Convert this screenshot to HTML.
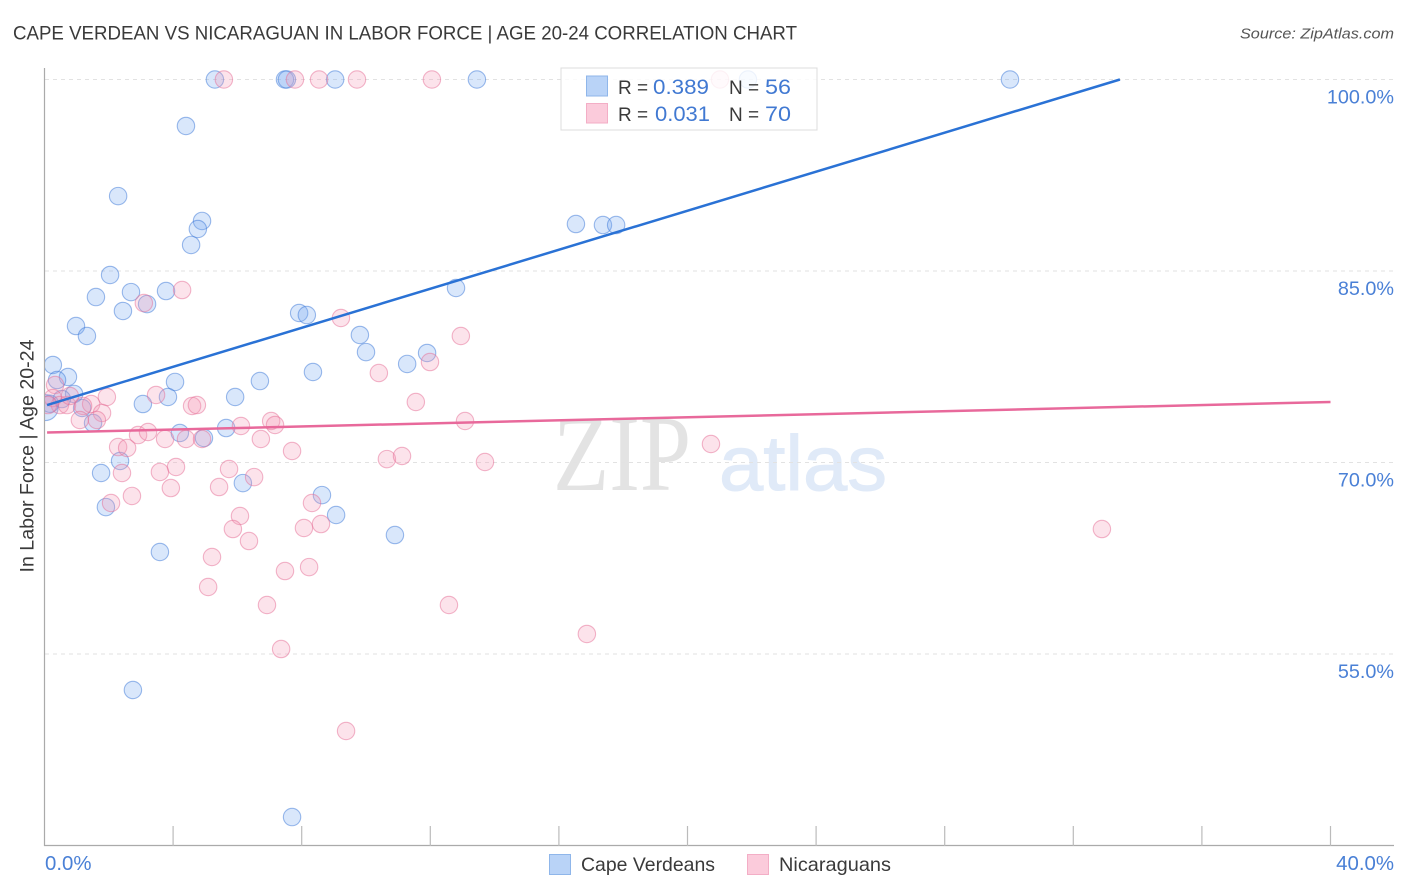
<!DOCTYPE html>
<html lang="en">
<head>
<meta charset="utf-8">
<title>Cape Verdean vs Nicaraguan In Labor Force Correlation Chart</title>
<style>
html,body{margin:0;padding:0;background:#fff;}
svg{display:block;font-family:"Liberation Sans",Arial,sans-serif;}
</style>
</head>
<body>
<svg id="chart" width="1406" height="892" viewBox="0 0 1406 892" xmlns="http://www.w3.org/2000/svg">
  <defs><clipPath id="plot-clip"><rect x="45" y="60" width="1349" height="786"/></clipPath></defs>
  <text x="13" y="39.5" font-size="19" fill="#3a3a3a" textLength="784" lengthAdjust="spacingAndGlyphs">CAPE VERDEAN VS NICARAGUAN IN LABOR FORCE | AGE 20-24 CORRELATION CHART</text>
  <text x="1394" y="38.5" font-size="15" fill="#555" font-style="italic" text-anchor="end" textLength="154" lengthAdjust="spacingAndGlyphs">Source: ZipAtlas.com</text>
  <g>
    <text x="553" y="490" font-family="'Liberation Serif',serif" font-size="108" fill="#e3e3e3" textLength="138" lengthAdjust="spacingAndGlyphs">ZIP</text>
    <text x="719" y="490" font-size="78" fill="#e0eaf8" stroke="#e0eaf8" stroke-width="1" textLength="168" lengthAdjust="spacingAndGlyphs">atlas</text>
  </g>
  <g id="grid"></g>
  <g id="axes"></g>
  <g id="marks" clip-path="url(#plot-clip)"></g>
  <g id="lines" clip-path="url(#plot-clip)"></g>
  <g id="labels"></g>
  <text transform="translate(33.5,456) rotate(-90)" font-size="19" fill="#3a3a3a" text-anchor="middle" textLength="233" lengthAdjust="spacingAndGlyphs">In Labor Force | Age 20-24</text>
  <g>
    <rect x="561" y="68" width="256" height="62" fill="#fff" fill-opacity="0.82" stroke="#dcdcdc" stroke-width="1"/>
    <rect x="586.5" y="76" width="21" height="20" fill="#b9d3f7" stroke="#8fb6ea"/>
    <rect x="586.5" y="103.5" width="21" height="19.5" fill="#fbcbdb" stroke="#f3aec6"/>
    <text x="618" y="94" font-size="19" fill="#3a3a3a">R =</text>
    <text x="653" y="94" font-size="21" fill="#4179d2" textLength="56" lengthAdjust="spacingAndGlyphs">0.389</text>
    <text x="729" y="94" font-size="19" fill="#3a3a3a">N =</text>
    <text x="765" y="94" font-size="21" fill="#4179d2" textLength="26" lengthAdjust="spacingAndGlyphs">56</text>
    <text x="618" y="121" font-size="19" fill="#3a3a3a">R =</text>
    <text x="655" y="121" font-size="21" fill="#4179d2" textLength="55" lengthAdjust="spacingAndGlyphs">0.031</text>
    <text x="729" y="121" font-size="19" fill="#3a3a3a">N =</text>
    <text x="765" y="121" font-size="21" fill="#4179d2" textLength="26" lengthAdjust="spacingAndGlyphs">70</text>
  </g>
  <g>
    <rect x="549.5" y="854.5" width="21" height="20" fill="#b9d3f7" stroke="#8fb6ea"/>
    <text x="581" y="871" font-size="19.5" fill="#3a3a3a" textLength="134" lengthAdjust="spacingAndGlyphs">Cape Verdeans</text>
    <rect x="747.5" y="854.5" width="21" height="20" fill="#fbcbdb" stroke="#f3aec6"/>
    <text x="779" y="871" font-size="19.5" fill="#3a3a3a" textLength="112" lengthAdjust="spacingAndGlyphs">Nicaraguans</text>
  </g>
</svg>
<script>
const capeVerdeanX = [5.30,7.48,7.54,9.04,13.45,21.88,30.03,4.40,2.29,4.90,4.77,4.56,16.53,17.37,17.78,2.04,1.60,2.69,3.78,2.44,3.19,12.80,7.92,8.16,0.98,1.32,9.81,10.00,11.28,11.90,0.26,8.35,0.73,0.39,4.06,6.70,0.92,3.84,5.93,3.06,1.17,0.54,0.17,1.51,4.21,4.96,5.65,2.35,1.76,6.17,1.91,8.63,9.07,10.90,3.59,2.75,7.70];
const capeVerdeanY = [100,100,100,100,100,100,100,96.36,90.87,88.92,88.29,87.04,88.68,88.60,88.60,84.69,82.96,83.35,83.43,81.87,82.41,83.67,81.71,81.55,80.69,79.91,79.99,78.65,77.72,78.58,77.64,77.09,76.70,76.46,76.31,76.38,75.37,75.13,75.13,74.58,74.27,74.97,74.60,73.09,72.31,71.92,72.70,70.12,69.18,68.39,66.51,67.45,65.89,64.32,62.99,52.18,42.23];
const nicaraguanX = [5.58,7.79,8.54,9.72,12.05,21.01,4.28,3.09,9.22,12.95,11.99,10.40,11.55,13.08,20.73,3.47,1.94,0.33,0.26,0.48,0.11,0.70,0.79,1.45,1.20,1.79,1.10,1.63,4.59,4.74,7.05,7.17,6.11,6.73,7.70,2.91,3.22,3.75,4.40,4.90,2.29,2.57,13.70,10.65,11.12,4.09,3.59,5.74,2.41,3.93,6.52,5.43,2.72,2.07,8.32,6.08,8.60,8.07,5.86,32.89,6.36,5.21,8.23,7.48,5.09,12.58,6.92,16.87,7.36,9.38];
const nicaraguanY = [100,100,100,100,100,100,83.51,82.49,81.32,79.91,77.87,77.01,74.74,73.25,71.45,75.29,75.13,76.07,75.05,74.50,74.50,74.50,75.21,74.58,74.43,73.88,73.33,73.33,74.43,74.50,73.25,72.94,72.86,71.84,70.90,72.15,72.39,71.84,71.84,71.84,71.21,71.14,70.04,70.27,70.51,69.65,69.26,69.49,69.18,68.00,68.86,68.08,67.38,66.83,66.83,65.81,65.18,64.87,64.79,64.79,63.85,62.60,61.81,61.50,60.25,58.84,58.84,56.57,55.39,48.97];
const capeVerdeanClusterX = [0.02];
const capeVerdeanClusterY = [74.30];
const capeVerdeanTrendX = [0.08, 33.45];
const capeVerdeanTrendY = [74.50, 100];
const nicaraguanTrendX = [0.08, 40];
const nicaraguanTrendY = [72.35, 74.74];
const yTickValues = [100, 85, 70, 55];
const yTickLabels = ["100.0%", "85.0%", "70.0%", "55.0%"];
const xTickValues = [4, 8, 12, 16, 20, 24, 28, 32, 36, 40];
const xEndLabels = ["0.0%", "40.0%"];

const NS = "http://www.w3.org/2000/svg";
function xScale(v) { return 44.5 + v * 32.15; }
function yScale(v) { return 79.5 + (100 - v) * 12.767; }
function make(tag, attrs, parent) {
  const el = document.createElementNS(NS, tag);
  for (const k in attrs) el.setAttribute(k, attrs[k]);
  parent.appendChild(el);
  return el;
}
const grid = document.getElementById("grid");
const axes = document.getElementById("axes");
const marks = document.getElementById("marks");
const lines = document.getElementById("lines");
const labels = document.getElementById("labels");

yTickValues.forEach(function (v, i) {
  const gl = make("line", {x1: 45, x2: 1394, y1: yScale(v), y2: yScale(v), stroke: "#e2e2e2", "stroke-width": 1, "stroke-dasharray": "4 4"}, grid);
  
  
  const t = make("text", {x: 1394, y: yScale(v) + 24, "font-size": 19.8, fill: "#4a80d6", "text-anchor": "end"}, labels);
  t.textContent = yTickLabels[i];
  
  
});
const yAxis = make("line", {x1: 44.5, x2: 44.5, y1: 68, y2: 846, stroke: "#aaa", "stroke-width": 1.2}, axes);


const xAxis = make("line", {x1: 44, x2: 1394, y1: 845.5, y2: 845.5, stroke: "#aaa", "stroke-width": 1.2}, axes);


xTickValues.forEach(function (v) {
  const tk = make("line", {x1: xScale(v), x2: xScale(v), y1: 826, y2: 846, stroke: "#bbb", "stroke-width": 1.2}, axes);
  
  
});
const xLeft = make("text", {x: 45, y: 870, "font-size": 20.4, fill: "#4a80d6"}, labels);
xLeft.textContent = xEndLabels[0];


const xRight = make("text", {x: 1394, y: 870, "font-size": 20.4, fill: "#4a80d6", "text-anchor": "end"}, labels);
xRight.textContent = xEndLabels[1];



function drawPoints(xs, ys, r, fill, stroke, name) {
  xs.forEach(function (x, i) {
    const c = make("circle", {cx: xScale(x), cy: yScale(ys[i]), r: r, fill: fill, stroke: stroke, "stroke-width": 1.1}, marks);
    
    
  });
}
const blueFill = "rgba(120,170,240,0.28)";
const blueStroke = "rgba(60,120,215,0.5)";
const pinkFill = "rgba(245,150,180,0.27)";
const pinkStroke = "rgba(230,110,150,0.5)";
drawPoints(capeVerdeanClusterX, capeVerdeanClusterY, 13, blueFill, blueStroke, "cape-verdean-cluster-point");
drawPoints(capeVerdeanX, capeVerdeanY, 8.7, blueFill, blueStroke, "cape-verdean-point");
drawPoints(nicaraguanX, nicaraguanY, 8.7, pinkFill, pinkStroke, "nicaraguan-point");

function drawTrend(xs, ys, color, name) {
  const l = make("line", {x1: xScale(xs[0]), y1: yScale(ys[0]), x2: xScale(xs[1]), y2: yScale(ys[1]), stroke: color, "stroke-width": 2.5}, lines);
  
  
}
drawTrend(capeVerdeanTrendX, capeVerdeanTrendY, "#2a72d5", "cape-verdean-trend-line");
drawTrend(nicaraguanTrendX, nicaraguanTrendY, "#e8699b", "nicaraguan-trend-line");
</script>
</body>
</html>
